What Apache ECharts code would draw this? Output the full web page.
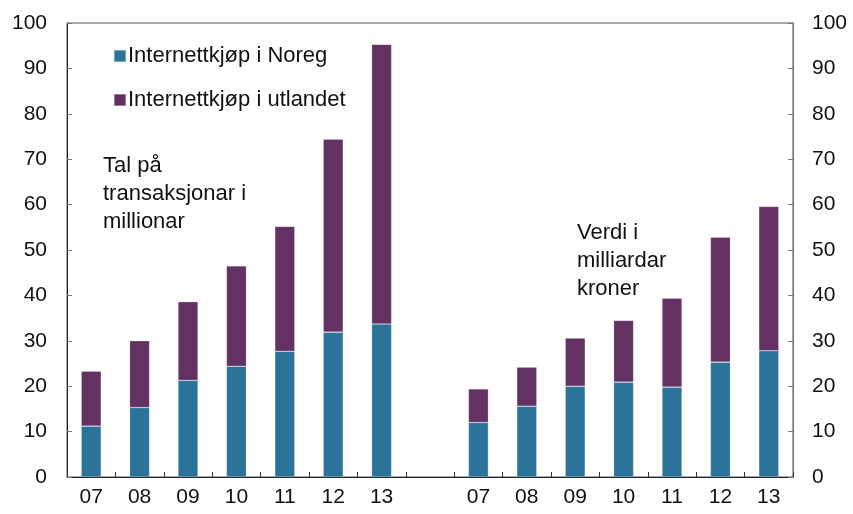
<!DOCTYPE html>
<html>
<head>
<meta charset="utf-8">
<script src="https://cdn.jsdelivr.net/npm/echarts@6/dist/echarts.min.js"></script>
<style>
  html, body { margin: 0; padding: 0; background: #fff; }
  #chart { width: 853px; height: 514px; }
</style>
</head>
<body>
<div id="chart"></div>
<script>
// two panels share one category axis, with an empty slot between them
const years = ['07', '08', '09', '10', '11', '12', '13']
const categories = [...years, '', ...years]

// left panel: transactions (millions), right panel: value (bn NOK)
const noregCount = [11.2, 15.3, 21.3, 24.4, 27.7, 31.9, 33.7]
const utlandCount = [12.1, 14.7, 17.3, 22.1, 27.5, 42.5, 61.6]
const noregValue = [12.0, 15.6, 20.0, 20.9, 19.8, 25.3, 27.8]
const utlandValue = [7.4, 8.6, 10.6, 13.6, 19.6, 27.5, 31.8]

const yTicks = [0, 10, 20, 30, 40, 50, 60, 70, 80, 90, 100]

const noreg = [...noregCount, '-', ...noregValue]
const utland = [...utlandCount, '-', ...utlandValue]

const font = '"Liberation Sans", Arial, Helvetica, sans-serif'
const chart = echarts.init(document.getElementById('chart'))

function yAxis(pos) {
  return {
    type: 'value',
    position: pos,
    min: yTicks[0],
    max: yTicks[yTicks.length - 1],
    interval: 10,
    axisLine: { show: true, lineStyle: { color: pos === 'left' ? '#222' : '#777', width: 1 } },
    axisTick: { show: true, inside: true, length: 5, lineStyle: { color: '#777' } },
    axisLabel: { color: '#111', fontSize: 21, fontFamily: font, margin: pos === 'left' ? 20 : 19 },
    splitLine: { show: false },
  }
}

chart.setOption({
  animation: false,
  grid: {
    left: 67, right: 60, top: 23, bottom: 37,
    show: true, borderColor: '#555', borderWidth: 1,
  },
  legend: {
    orient: 'vertical',
    left: 108, top: 40,
    itemWidth: 12, itemHeight: 12, itemGap: 22,
    icon: 'rect',
    textStyle: { color: '#111', fontSize: 22, fontFamily: font, padding: [0, 0, 0, -3] },
    data: ['Internettkjøp i Noreg', 'Internettkjøp i utlandet'],
  },
  xAxis: {
    type: 'category',
    data: categories,
    axisLine: { lineStyle: { color: '#222', width: 1.2 } },
    axisTick: { show: true, inside: true, length: 5, interval: 0, lineStyle: { color: '#333' } },
    axisLabel: { color: '#111', fontSize: 21, fontFamily: font, margin: 10, interval: 0 },
  },
  yAxis: [yAxis('left'), yAxis('right')],
  graphic: [
    {
      type: 'text', left: 103, top: 152,
      style: { text: 'Tal på\ntransaksjonar i\nmillionar', fontSize: 22, fontFamily: font, fill: '#111', lineHeight: 28 },
    },
    {
      type: 'text', left: 577, top: 219,
      style: { text: 'Verdi i\nmilliardar\nkroner', fontSize: 22, fontFamily: font, fill: '#111', lineHeight: 28 },
    },
  ],
  series: [
    {
      name: 'Internettkjøp i Noreg',
      type: 'bar',
      stack: 'total',
      barWidth: 20,
      data: noreg,
      itemStyle: { color: '#2C7399', borderColor: 'rgba(255,255,255,0.35)', borderWidth: 0.6 },
    },
    {
      name: 'Internettkjøp i utlandet',
      type: 'bar',
      stack: 'total',
      barWidth: 20,
      data: utland,
      itemStyle: { color: '#643262', borderColor: 'rgba(255,255,255,0.35)', borderWidth: 0.6 },
    },
  ],
})
</script>
</body>
</html>
